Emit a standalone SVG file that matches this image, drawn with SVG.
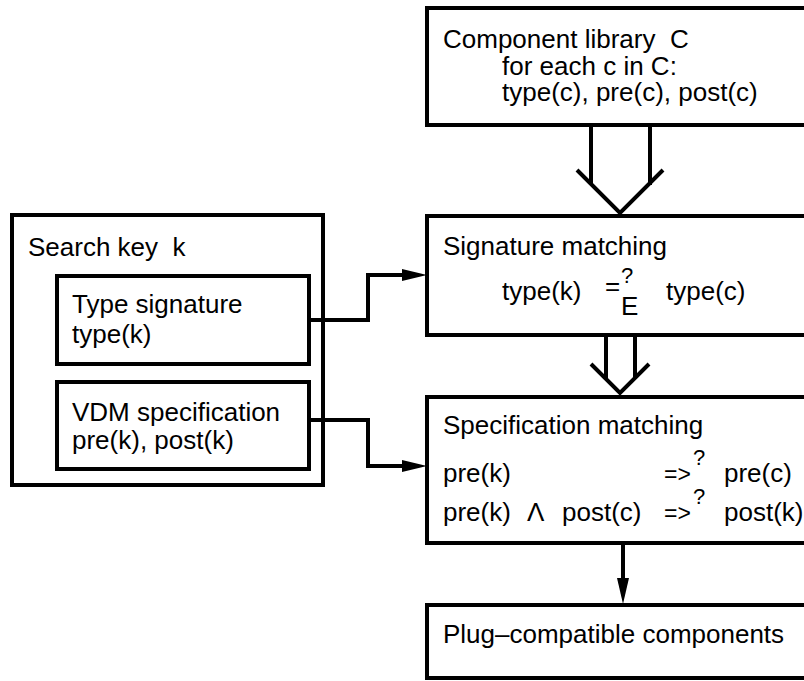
<svg xmlns="http://www.w3.org/2000/svg" width="804" height="681" viewBox="0 0 804 681">
<style>
.b{fill:#fff;stroke:#000;stroke-width:4}
.l{fill:none;stroke:#000;stroke-width:4;stroke-linejoin:miter}
.h{fill:#000;stroke:none}
text{font-family:"Liberation Sans",Arial,sans-serif;font-size:26px;fill:#000;white-space:pre}
.s{font-size:22px}
.r{font-size:23px}
</style>
<rect width="804" height="681" fill="#fff"/>
<g id="library">
<rect class="b" x="427" y="8" width="400" height="117"/>
<text x="443" y="48" xml:space="preserve">Component library  C</text>
<text x="502" y="75">for each c in C:</text>
<text x="502" y="101">type(c), pre(c), post(c)</text>
</g>
<g id="signature">
<rect class="b" x="427" y="216" width="400" height="119"/>
<text x="443" y="255">Signature matching</text>
<text x="502" y="300">type(k)</text>
<text x="605" y="295">=</text>
<text class="s" x="621" y="283">?</text>
<text x="621" y="315">E</text>
<text x="666" y="300">type(c)</text>
</g>
<g id="specification">
<rect class="b" x="427" y="397" width="400" height="146"/>
<text x="443" y="434">Specification matching</text>
<text x="443" y="482">pre(k)</text>
<text class="r" x="664" y="482">=&gt;</text>
<text class="s" x="693" y="465">?</text>
<text x="724" y="482">pre(c)</text>
<text x="443" y="521">pre(k)</text>
<text x="527" y="521">Λ</text>
<text x="562" y="521">post(c)</text>
<text class="r" x="664" y="521">=&gt;</text>
<text class="s" x="693" y="504">?</text>
<text x="724" y="521">post(k)</text>
</g>
<g id="plug">
<rect class="b" x="427" y="605" width="400" height="73"/>
<text x="443" y="643">Plug–compatible components</text>
</g>
<g id="searchkey">
<rect class="b" x="12" y="215" width="311" height="270"/>
<text x="28" y="256" xml:space="preserve">Search key  k</text>
</g>
<g id="typesig">
<rect class="b" x="57" y="276" width="252" height="88"/>
<text x="72" y="313">Type signature</text>
<text x="72" y="343">type(k)</text>
</g>
<g id="vdm">
<rect class="b" x="57" y="382" width="252" height="87"/>
<text x="72" y="421">VDM specification</text>
<text x="72" y="449">pre(k), post(k)</text>
</g>
<g id="connectors">
<path class="l" d="M591,125V185M650,125V185M577,170L620,213L663,170"/>
<path class="l" d="M606,335V379M635,335V379M591,364L620,393L649,364"/>
<path class="l" d="M623,543V582"/>
<polygon class="h" points="617,578 629,578 623,604"/>
<path class="l" d="M309,320H368V275H406"/>
<polygon class="h" points="402,269 427,275 402,281"/>
<path class="l" d="M309,420H368V466H406"/>
<polygon class="h" points="402,460 427,466 402,472"/>
</g>
</svg>
